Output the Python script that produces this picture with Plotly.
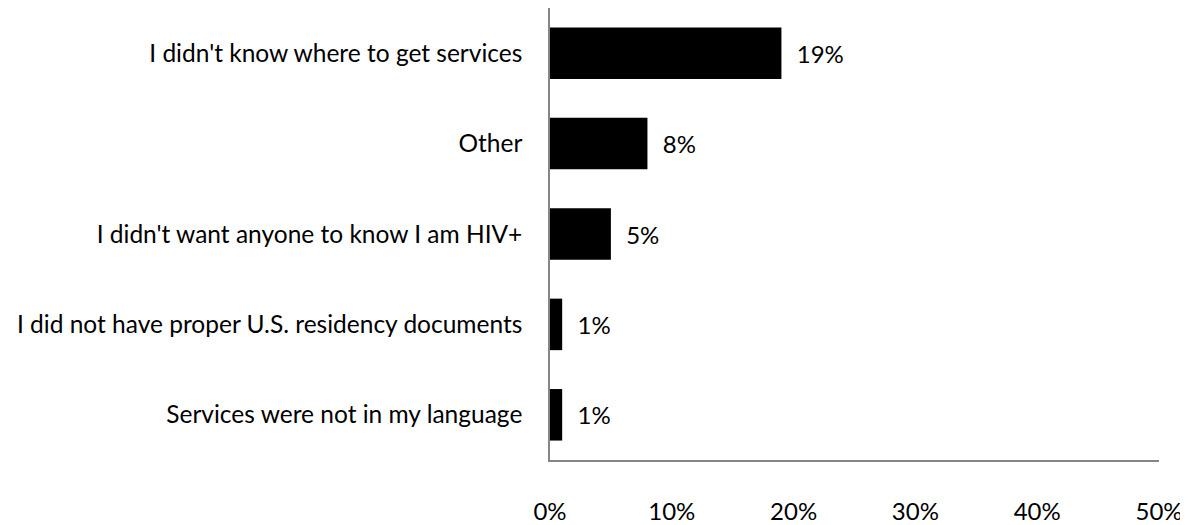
import plotly.graph_objects as go

categories = [
    "I didn't know where to get services",
    "Other",
    "I didn't want anyone to know I am HIV+",
    "I did not have proper U.S. residency documents",
    "Services were not in my language",
]
shares = [0.19, 0.08, 0.05, 0.01, 0.01]
x_ticks = [0, 0.1, 0.2, 0.3, 0.4, 0.5]

font_family = "Lato, 'Open Sans', sans-serif"

fig = go.Figure(
    go.Bar(
        x=shares,
        y=categories,
        orientation="h",
        marker=dict(color="#000000", line=dict(width=0)),
        text=["\u00a0\u00a0" + f"{v:.0%}" for v in shares],
        textposition="outside",
        textfont=dict(size=24, color="#000000", family=font_family),
        cliponaxis=False,
        hoverinfo="skip",
    )
)

# page body adds an 8px margin, so the figure is offset accordingly
fig.update_layout(
    width=1180,
    height=517,
    margin=dict(l=542, r=29, t=0, b=58),
    plot_bgcolor="white",
    paper_bgcolor="white",
    bargap=0.43,
    showlegend=False,
    font=dict(family=font_family, size=24, color="#000000"),
    xaxis=dict(
        range=[0, 0.5],
        tickvals=x_ticks,
        tickformat=".0%",
        showgrid=False,
        zeroline=False,
        showline=True,
        linecolor="#868686",
        linewidth=1.5,
        ticks="",
        ticklabelstandoff=29,
        tickfont=dict(size=24),
    ),
    yaxis=dict(
        autorange="reversed",
        showgrid=False,
        zeroline=False,
        showline=True,
        linecolor="#868686",
        linewidth=1.5,
        ticks="",
        ticklabelstandoff=21,
        tickfont=dict(size=24.5),
    ),
)

fig.write_html("out.html")
